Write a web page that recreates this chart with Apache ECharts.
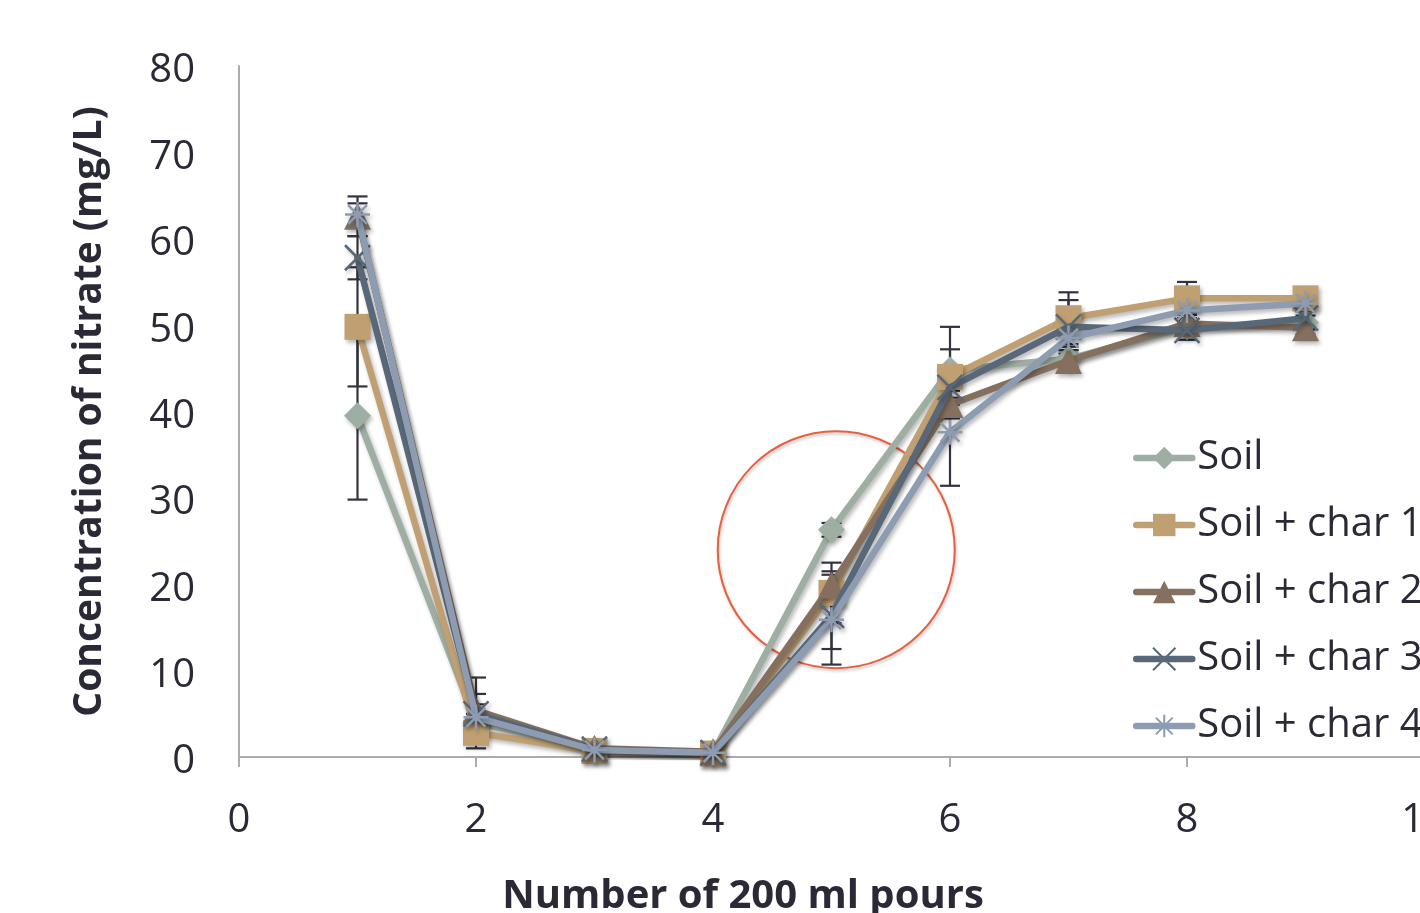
<!DOCTYPE html>
<html>
<head>
<meta charset="utf-8">
<script src="https://cdn.jsdelivr.net/npm/echarts@6/dist/echarts.min.js"></script>
<style>
html,body{margin:0;padding:0;background:#fff;overflow:hidden;}
#chart{width:1420px;height:913px;}
</style>
</head>
<body>
<div id="chart"></div>
<script>
// ---- data ----
const xValues = [1, 2, 3, 4, 5, 6, 7, 8, 9];
const seriesNames = ['Soil', 'Soil + char 1', 'Soil + char 2', 'Soil + char 3', 'Soil + char 4'];
const soil  = [39.5, 4.0, 0.8, 0.5, 26.3, 44.8, 46.1, 49.8, 50.3];
const char1 = [49.8, 2.8, 0.7, 0.4, 19.0, 44.0, 50.8, 53.1, 53.1];
const char2 = [62.6, 5.4, 1.0, 0.6, 19.9, 40.8, 45.9, 50.2, 49.7];
const char3 = [57.8, 5.0, 0.9, 0.5, 16.4, 42.8, 49.8, 49.4, 50.8];
const char4 = [62.8, 4.6, 0.8, 0.5, 15.9, 37.6, 48.5, 51.7, 52.5];
// symmetric error bar half-widths
const soilErr  = [9.7, 1.0, 0.3, 0.2, 0.8, 5.0, 1.0, 1.0, 0.8];
const char1Err = [6.9, 1.8, 0.2, 0.2, 3.5, 3.2, 3.0, 1.9, 0.8];
const char2Err = [2.3, 3.8, 0.3, 0.2, 1.6, 1.6, 1.2, 1.0, 0.8];
const char3Err = [2.5, 2.3, 0.2, 0.2, 3.9, 1.2, 3.1, 1.1, 0.8];
const char4Err = [1.3, 1.5, 0.2, 0.2, 5.2, 6.2, 1.0, 1.0, 0.8];
const xTicks = [0, 2, 4, 6, 8, 10];
const yTicks = [0, 10, 20, 30, 40, 50, 60, 70, 80];
// annotation circle (data units)
const circleCenter = [5.04, 24.0];
const circleRadiusX = 1.0;

// ---- styles ----
const colors = ['#9eaea2', '#c0a072', '#85705f', '#586878', '#8d9cb1'];
const crossPath = 'path://M0,0L20,20M20,0L0,20';
const starPath = 'path://M10,0L10,20M0,10L20,10M2.5,2.5L17.5,17.5M17.5,2.5L2.5,17.5';
const symbols = ['diamond', 'rect', 'triangle', crossPath, starPath];
const symbolSizes = [27, 26, 27, 25, 25];
const values = [soil, char1, char2, char3, char4];
const errs = [soilErr, char1Err, char2Err, char3Err, char4Err];
const shadow = {shadowBlur: 4, shadowOffsetX: 2, shadowOffsetY: 3, shadowColor: 'rgba(0,0,0,0.28)'};
const textColor = '#2a2a36';

const series = [];

// annotation circle
series.push({
  type: 'custom', name: 'circle', silent: true, z: 1,
  data: [circleCenter],
  renderItem: function (params, api) {
    const c = api.coord([api.value(0), api.value(1)]);
    const r = api.size([circleRadiusX, 0])[0];
    return {
      type: 'circle',
      shape: {cx: c[0], cy: c[1], r: r},
      style: {fill: 'none', stroke: '#e4603f', lineWidth: 2, shadowBlur: 3, shadowOffsetX: 1, shadowOffsetY: 2, shadowColor: 'rgba(0,0,0,0.25)'}
    };
  }
});

// error bars
errs.forEach(function (e, i) {
  series.push({
    type: 'custom', name: seriesNames[i] + ' err', silent: true, z: 2,
    encode: {x: 0, y: [1, 2]},
    data: xValues.map(function (x, k) { return [x, values[i][k] - e[k], values[i][k] + e[k]]; }),
    renderItem: function (params, api) {
      const x = api.value(0);
      const lo = api.coord([x, api.value(1)]);
      const hi = api.coord([x, api.value(2)]);
      const hw = 10;
      const st = {stroke: '#33333f', lineWidth: 2.2};
      return {
        type: 'group',
        children: [
          {type: 'line', shape: {x1: lo[0], y1: lo[1], x2: hi[0], y2: hi[1]}, style: st},
          {type: 'line', shape: {x1: hi[0] - hw, y1: hi[1], x2: hi[0] + hw, y2: hi[1]}, style: st},
          {type: 'line', shape: {x1: lo[0] - hw, y1: lo[1], x2: lo[0] + hw, y2: lo[1]}, style: st}
        ]
      };
    }
  });
});

// lines
values.forEach(function (v, i) {
  const isStroke = i >= 3;
  series.push({
    type: 'line', name: seriesNames[i], z: 3 + i,
    data: xValues.map(function (x, k) { return [x, v[k]]; }),
    symbol: symbols[i],
    symbolSize: symbolSizes[i],
    lineStyle: Object.assign({color: colors[i], width: 6.5, cap: 'round', join: 'round'}, shadow),
    itemStyle: Object.assign(isStroke ? {color: 'none', borderColor: colors[i], borderWidth: 2.5} : {color: colors[i], borderWidth: 0}, shadow),
    emphasis: {disabled: true},
    animation: false
  });
});

const chart = echarts.init(document.getElementById('chart'));
chart.setOption({
  animation: false,
  backgroundColor: '#ffffff',
  grid: {left: 239, top: 66, width: 1185, height: 691, containLabel: false, outerBoundsMode: 'none'},
  title: {
    text: 'Number of 200 ml pours',
    left: 738, top: 872, textAlign: 'center',
    textStyle: {fontFamily: 'Open Sans', fontWeight: 'bold', fontSize: 40, color: textColor}
  },
  legend: {
    data: seriesNames,
    orient: 'vertical',
    left: 1133, top: 437, padding: 0,
    itemWidth: 56, itemHeight: 28, itemGap: 25, itemTextGap: -5,
    lineStyle: {width: 6.5, cap: 'round'},
    textStyle: {fontFamily: 'Open Sans', fontSize: 40, color: textColor, lineHeight: 42},
    selectedMode: false
  },
  xAxis: {
    type: 'value', min: 0, max: 10, interval: 2,
    axisLine: {show: true, lineStyle: {color: '#ababab', width: 2}},
    axisTick: {show: true, length: 10, inside: false, lineStyle: {color: '#ababab', width: 2}},
    splitLine: {show: false},
    axisLabel: {
      margin: 44, fontFamily: 'Open Sans', fontSize: 40, color: textColor,
      formatter: function (v) { return xTicks.indexOf(v) >= 0 ? String(v) : ''; }
    }
  },
  yAxis: {
    type: 'value', min: 0, max: 80, interval: 10,
    name: 'Concentration of nitrate (mg/L)',
    nameLocation: 'middle', nameGap: 130, nameRotate: 90,
    nameTextStyle: {fontFamily: 'Open Sans', fontWeight: 'bold', fontSize: 39, color: textColor},
    axisLine: {show: true, lineStyle: {color: '#ababab', width: 2}},
    axisTick: {show: false},
    splitLine: {show: false},
    axisLabel: {
      margin: 44, fontFamily: 'Open Sans', fontSize: 40, color: textColor,
      verticalAlign: 'top', lineHeight: 10,
      formatter: function (v) { return yTicks.indexOf(v) >= 0 ? String(v) : ''; }
    }
  },
  series: series
});
</script>
</body>
</html>
